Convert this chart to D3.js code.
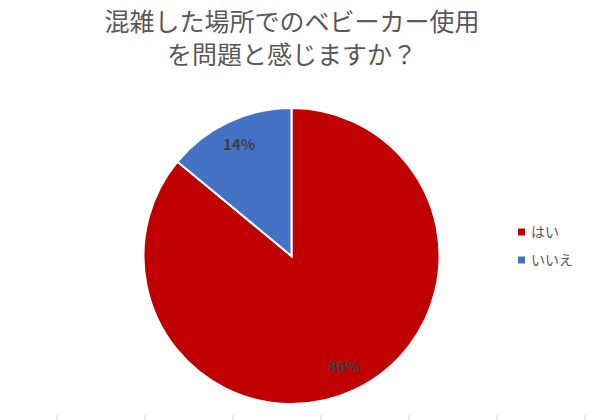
<!DOCTYPE html>
<html>
<head>
<meta charset="utf-8">
<script src="https://d3js.org/d3.v7.min.js"></script>
<style>
body { margin: 0; background: #fff; }
text { font-family: "Noto Sans CJK JP", "Noto Sans", sans-serif; }
</style>
</head>
<body>
<svg id="chart" width="592" height="420"></svg>
<script>
// data
var titleLines = ['混雑した場所でのベビーカー使用', 'を問題と感じますか？'];
var categories = ['はい', 'いいえ'];
var values = [86, 14];
var colors = ['#C00000', '#4472C4'];
var tickCount = 7;

var svg = d3.select('#chart');
var width = 592, height = 420;
var cx = 291.5, cy = 256, radius = 148;

// title
svg.append('g')
  .selectAll('text')
  .data(titleLines)
  .enter().append('text')
  .attr('x', 292)
  .attr('y', function(d, i) { return 31 + i * 33; })
  .attr('text-anchor', 'middle')
  .attr('font-size', 25)
  .attr('fill', '#595959')
  .text(function(d) { return d; });

var color = d3.scaleOrdinal().domain(categories).range(colors);

var pie = d3.pie().sort(null).value(function(d, i) { return values[i]; });
var arcs = pie(categories);
var arc = d3.arc().innerRadius(0).outerRadius(radius);
var labelArc = d3.arc().innerRadius(radius * 0.83).outerRadius(radius * 0.83);

var g = svg.append('g').attr('transform', 'translate(' + cx + ',' + cy + ')');

g.selectAll('path')
  .data(arcs)
  .enter().append('path')
  .attr('d', arc)
  .attr('fill', function(d) { return color(d.data); })
  .attr('stroke', '#fff')
  .attr('stroke-width', 2);

var total = d3.sum(values);
g.selectAll('text.lbl')
  .data(arcs)
  .enter().append('text')
  .attr('class', 'lbl')
  .attr('transform', function(d) { return 'translate(' + labelArc.centroid(d) + ')'; })
  .attr('dy', '0.35em')
  .attr('text-anchor', 'middle')
  .attr('font-size', 15)
  .attr('font-weight', 'bold')
  .attr('fill', '#404040')
  .text(function(d) { return Math.round(d.value / total * 100) + '%'; });

// legend
var legend = svg.append('g')
  .selectAll('g')
  .data(categories)
  .enter().append('g')
  .attr('transform', function(d, i) { return 'translate(518,' + (232 + i * 28) + ')'; });

legend.append('rect')
  .attr('x', 0).attr('y', -3.5)
  .attr('width', 7).attr('height', 7)
  .attr('fill', color);

legend.append('text')
  .attr('x', 13)
  .attr('dy', '0.35em')
  .attr('font-size', 14)
  .attr('fill', '#595959')
  .text(function(d) { return d; });

// faint ticks along the bottom
var x = d3.scaleLinear().domain([0, tickCount - 1]).range([57, 585]);
svg.append('g')
  .selectAll('line')
  .data(d3.range(tickCount))
  .enter().append('line')
  .attr('x1', x).attr('x2', x)
  .attr('y1', 415).attr('y2', 420)
  .attr('stroke', '#d9d9d9')
  .attr('stroke-width', 1);
</script>
</body>
</html>
